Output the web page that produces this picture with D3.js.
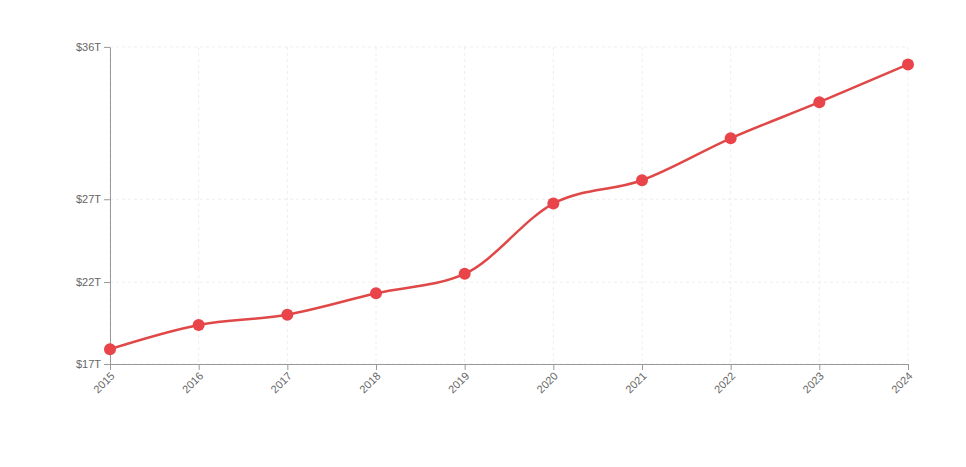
<!DOCTYPE html>
<html>
<head>
<meta charset="utf-8">
<script src="https://cdn.jsdelivr.net/npm/d3@7"></script>
<style>
html,body{margin:0;padding:0;background:#fff;}
svg{display:block;font-family:"Helvetica Neue",Arial,"Liberation Sans",sans-serif;}
</style>
</head>
<body>
<svg id="chart" width="966" height="467"></svg>
<script>
const years = ["2015","2016","2017","2018","2019","2020","2021","2022","2023","2024"];
const debt = [17.95, 19.41, 20.03, 21.32, 22.50, 26.74, 28.15, 30.68, 32.86, 35.14];
const yTicks = [17.05, 22, 27, 36.2];

const svg = d3.select("#chart");
const margin = {left:110, right:58, top:47, bottom:103};
const W = 966, H = 467;

const x = d3.scalePoint().domain(years).range([margin.left, W - margin.right]);
const y = d3.scaleLinear().domain([d3.min(debt)*0.95, d3.max(debt)*1.03]).range([H - margin.bottom, margin.top]);

// grid
const g = svg.append("g");
g.selectAll("line.vg").data(years).join("line")
  .attr("x1", d=>x(d)).attr("x2", d=>x(d))
  .attr("y1", y.range()[1]).attr("y2", y.range()[0])
  .attr("stroke", "#eeeeee").attr("stroke-dasharray", "3,3").attr("stroke-width", 1);
g.selectAll("line.hg").data(yTicks).join("line")
  .attr("x1", margin.left).attr("x2", W - margin.right)
  .attr("y1", d=>y(d)).attr("y2", d=>y(d))
  .attr("stroke", "#eeeeee").attr("stroke-dasharray", "3,3").attr("stroke-width", 1);

// axes
const xAxis = svg.append("g").attr("transform", `translate(0,${y.range()[0]})`)
  .call(d3.axisBottom(x).tickSize(6).tickSizeOuter(0));
xAxis.selectAll("text")
  .attr("transform", "rotate(-45)")
  .style("text-anchor", "end")
  .attr("dx", "-0.5em").attr("dy", "0.3em");

const yAxis = svg.append("g").attr("transform", `translate(${margin.left},0)`)
  .call(d3.axisLeft(y).tickValues(yTicks).tickFormat(d => "$" + Math.round(d) + "T").tickSize(6).tickSizeOuter(0));

[xAxis, yAxis].forEach(a => {
  a.select(".domain").attr("stroke", "#999");
  a.selectAll(".tick line").attr("stroke", "#999");
  a.selectAll("text").attr("fill", "#666").style("font-size", "11px");
});

// line
const line = d3.line().x((d,i)=>x(years[i])).y(d=>y(d)).curve(d3.curveMonotoneX);
svg.append("path").datum(debt)
  .attr("d", line).attr("fill", "none")
  .attr("stroke", "#e04848").attr("stroke-width", 2.5);

svg.selectAll("circle.pt").data(debt).join("circle")
  .attr("cx", (d,i)=>x(years[i])).attr("cy", d=>y(d)).attr("r", 6)
  .attr("fill", "#e8444a");
</script>
</body>
</html>
